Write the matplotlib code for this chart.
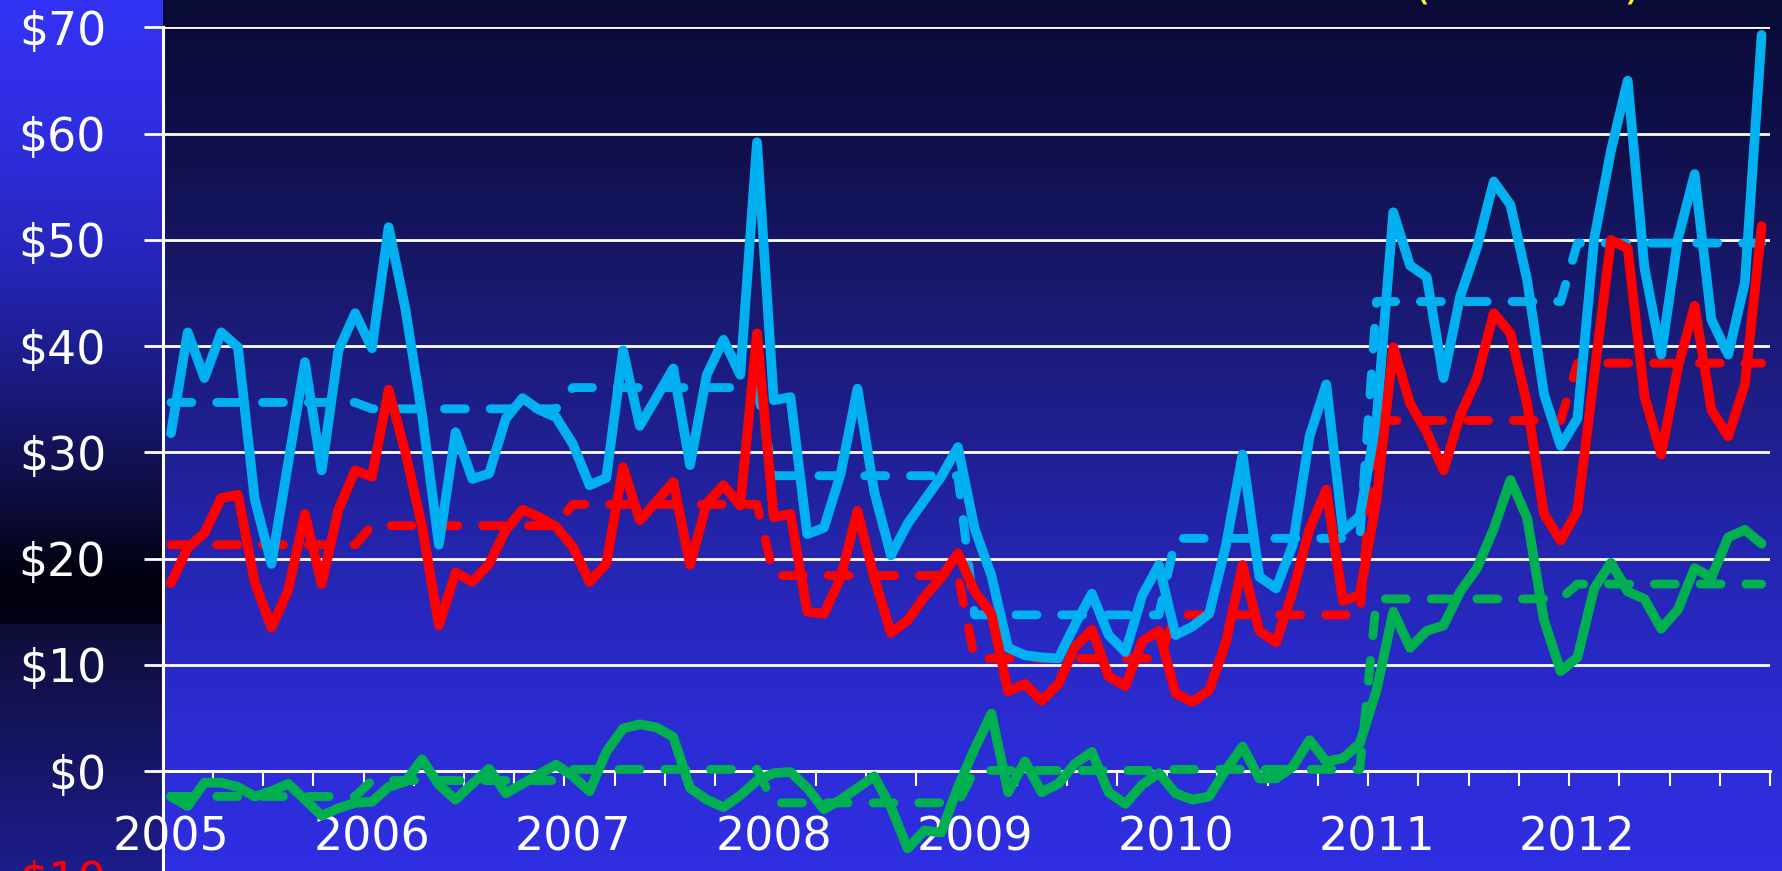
import numpy as np
import matplotlib
matplotlib.use("Agg")
import matplotlib.pyplot as plt
from matplotlib.colors import to_rgb
from matplotlib.ticker import NullFormatter

# ---------------- data (monthly, Jan 2005 - Dec 2012) ----------------
years = [2005, 2006, 2007, 2008, 2009, 2010, 2011, 2012]

blue_monthly = [
    31.8, 41.3, 37.0, 41.3, 39.9, 25.6, 19.5, 29.0, 38.5, 28.3, 39.6, 43.1,
    39.8, 51.2, 43.5, 33.5, 21.3, 31.9, 27.5, 28.0, 33.2, 35.1, 34.0, 33.3,
    30.8, 26.9, 27.6, 39.6, 32.5, 35.2, 37.9, 28.8, 37.3, 40.6, 37.3, 59.2,
    34.9, 35.2, 22.3, 22.9, 28.0, 36.0, 26.3, 20.3, 23.3, 25.5, 27.7, 30.5,
    22.8, 18.4, 11.6, 10.9, 10.7, 10.6, 13.8, 16.7, 12.8, 11.2, 16.5, 19.4,
    12.8, 13.6, 14.8, 21.2, 29.8, 18.3, 17.2, 21.3, 31.5, 36.4, 22.6, 24.0,
    33.0, 52.6, 47.6, 46.5, 37.0, 44.7, 49.3, 55.5, 53.3, 46.2, 35.5, 30.6,
    33.2, 50.1, 58.4, 65.0, 47.4, 39.2, 50.1, 56.2, 42.5, 39.2, 46.0, 69.3,
]
red_monthly = [
    17.7, 21.0, 22.4, 25.7, 26.0, 17.8, 13.5, 17.0, 24.2, 17.6, 24.6, 28.3,
    27.7, 35.9, 30.0, 23.0, 13.7, 18.7, 17.8, 19.5, 22.7, 24.6, 23.9, 23.0,
    21.1, 17.8, 19.5, 28.6, 23.6, 25.4, 27.2, 19.4, 25.2, 26.9, 25.0, 41.2,
    23.9, 24.2, 15.0, 14.8, 18.2, 24.5, 18.2, 13.0, 14.2, 16.4, 18.2, 20.5,
    16.9, 14.8, 7.5, 8.2, 6.6, 8.2, 11.7, 13.3, 8.9, 8.0, 12.2, 13.2,
    7.3, 6.5, 7.6, 12.1, 19.4, 13.2, 12.1, 16.9, 22.8, 26.5, 16.0, 16.6,
    25.5, 39.9, 34.6, 31.9, 28.3, 33.5, 37.0, 43.1, 41.2, 34.5, 24.2, 21.7,
    24.5, 37.3, 50.0, 49.2, 35.3, 29.8, 38.0, 43.8, 34.0, 31.5, 36.4, 51.3,
]
green_monthly = [
    -2.4, -3.3, -1.1, -1.1, -1.5, -2.4, -1.9, -1.2, -2.7, -4.2, -3.5, -3.0,
    -2.9, -1.5, -1.0, 1.1, -1.3, -2.7, -1.2, 0.2, -2.1, -1.2, -0.3, 0.6,
    -0.5, -1.9, 1.8, 4.0, 4.4, 4.1, 3.2, -1.6, -2.7, -3.4, -2.3, -0.9,
    -0.2, -0.1, -1.6, -3.6, -2.7, -1.6, -0.5, -3.4, -7.3, -5.6, -5.8, -1.5,
    2.1, 5.4, -2.0, 0.9, -2.0, -1.2, 0.7, 1.8, -2.0, -3.1, -1.3, -0.2,
    -2.1, -2.7, -2.4, 0.1, 2.3, -0.7, -0.7, 0.4, 2.9, 0.9, 1.2, 2.6,
    7.6, 15.0, 11.6, 13.2, 13.7, 16.9, 19.1, 22.8, 27.4, 23.8, 14.2, 9.4,
    10.7, 17.2, 19.6, 16.9, 16.2, 13.4, 15.2, 19.1, 18.2, 22.0, 22.7, 21.4,
]

# annual levels (dashed lines)
blue_annual = [34.7, 34.1, 36.1, 27.8, 14.7, 21.9, 44.2, 49.7]
red_annual = [21.3, 23.1, 25.1, 18.4, 10.6, 14.7, 33.0, 38.4]
green_annual = [-2.4, -0.9, 0.15, -3.0, 0.05, 0.15, 16.2, 17.6]

y_ticks = [-10, 0, 10, 20, 30, 40, 50, 60, 70]

# ---------------- figure ----------------
W, H = 1783, 871
fig = plt.figure(figsize=(W / 100, H / 100), dpi=100)


def grad(stops, n):
    pos = np.array([s[0] for s in stops])
    cols = np.array([to_rgb(s[1]) for s in stops])
    t = np.linspace(0, 1, n)
    return np.stack([np.interp(t, pos, cols[:, c]) for c in range(3)], axis=1)


main_stops = [(0.0, "#0a0a36"), (0.17, "#10104c"), (0.34, "#19196f"),
              (0.5, "#1f1f90"), (0.69, "#2727bb"), (0.85, "#2c2cd5"),
              (1.0, "#2f2fe3")]
left_stops = [(0.0, "#3333f5"), (0.15, "#2e2ee0"), (0.3, "#2626bb"),
              (0.42, "#1c1c88"), (0.52, "#121258"), (0.6, "#0a0a30"),
              (0.65, "#020214"), (0.715, "#000010"), (0.718, "#0e0e3a"),
              (0.8, "#121252"), (1.0, "#1d1d8c")]
img = np.empty((H, W, 3))
img[:, :] = grad(main_stops, H)[:, None, :]
img[:, :163] = grad(left_stops, H)[:, None, :]
bg = fig.add_axes([0, 0, 1, 1], zorder=0)
bg.imshow(img, aspect="auto", interpolation="nearest")
bg.axis("off")

px_per_unit = (771 - 27.5) / 70.0
ymin, ymax = -12, 70
ax_bottom = (H - 771 + ymin * px_per_unit) / H
ax_height = (ymax - ymin) * px_per_unit / H
ax = fig.add_axes([162.6 / W, ax_bottom, (1770 - 162.6) / W, ax_height], zorder=1)
ax.set_facecolor("none")

x = np.arange(len(blue_monthly))
blue_c, red_c, green_c = "#00b0f0", "#ff0000", "#00b050"
lw_solid = 7.0
lw_dash = 6.4
dash = (0, (2.35, 2.8))

for annual, col in ((blue_annual, blue_c), (red_annual, red_c), (green_annual, green_c)):
    ax.plot(x, np.repeat(annual, 12), color=col, lw=lw_dash, linestyle=dash,
            dash_capstyle="round", dash_joinstyle="round", zorder=3)
for series, col in ((blue_monthly, blue_c), (red_monthly, red_c), (green_monthly, green_c)):
    ax.plot(x, series, color=col, lw=lw_solid, solid_capstyle="round",
            solid_joinstyle="round", zorder=4)

ax.set_xlim(-0.5, 95.5)
ax.set_ylim(ymin, ymax)

# spines
for s in ("top", "right"):
    ax.spines[s].set_visible(False)
ax.spines["left"].set_color("white")
ax.spines["left"].set_linewidth(2.2)
ax.spines["bottom"].set_position(("data", 0))
ax.spines["bottom"].set_color("white")
ax.spines["bottom"].set_linewidth(2.0)

# y axis
ax.set_yticks(y_ticks)
ax.set_yticklabels([f"${abs(v)}" for v in y_ticks])
ax.tick_params(axis="y", length=13.7, width=2, color="white", pad=27,
               labelsize=33, labelcolor="white", direction="out")
for lab, v in zip(ax.get_yticklabels(), y_ticks):
    lab.set_color(red_c if v < 0 else "white")
ax.yaxis.grid(True, color="white", lw=2.0, zorder=1)
ax.set_axisbelow(True)

# x axis
ax.set_xticks(np.arange(-0.5, 96, 3))
ax.xaxis.set_major_formatter(NullFormatter())
ax.set_xticks([12 * i for i in range(len(years))], labels=[str(y) for y in years], minor=True)
ax.tick_params(axis="x", which="major", length=10.8, width=1.5, color="white", direction="out")
ax.tick_params(axis="x", which="minor", length=0, pad=32, labelsize=33, labelcolor="white")

for lab in ax.get_xticklabels(minor=True) + ax.get_yticklabels():
    lab.set_fontfamily("DejaVu Sans")

# partly visible yellow title text at the very top
fig.text(1422 / W, 1 + 3 / H, "(", color="#ffee33", fontsize=33, ha="center", va="baseline")
fig.text(1632 / W, 1 + 3 / H, ")", color="#ffee33", fontsize=33, ha="center", va="baseline")

fig.savefig("out.png", dpi=100)
